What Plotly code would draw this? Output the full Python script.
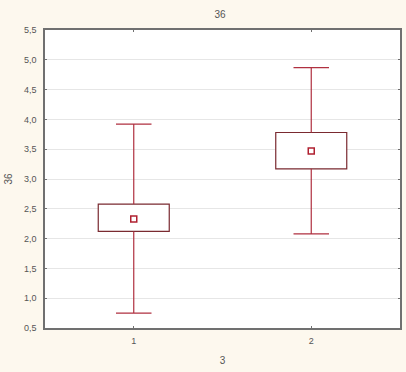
import plotly.graph_objects as go

groups = [1, 2]
upper_whisker = [3.92, 4.87]
q3_vals = [2.58, 3.78]
mean_vals = [2.33, 3.47]
q1_vals = [2.12, 3.17]
lower_whisker = [0.75, 2.08]
y_ticks = [0.5, 1.0, 1.5, 2.0, 2.5, 3.0, 3.5, 4.0, 4.5, 5.0, 5.5]

whisk_col = "#b03040"
box_col = "#7a2a30"
frame_col = "#707070"

fig = go.Figure()
# box body (q1..q3)
fig.add_trace(go.Bar(
    x=groups, base=q1_vals, y=[h - l for h, l in zip(q3_vals, q1_vals)],
    width=0.4, marker=dict(color="white", line=dict(color=box_col, width=1.2)),
    showlegend=False, hoverinfo="skip"))
# upper whisker: collapsed box at the whisker end acts as the cap
fig.add_trace(go.Box(
    x=groups, q1=upper_whisker, median=upper_whisker, q3=upper_whisker,
    lowerfence=q3_vals, upperfence=upper_whisker,
    width=0.2, whiskerwidth=0, fillcolor="white",
    line=dict(color=whisk_col, width=1.2), showlegend=False, hoverinfo="skip"))
# lower whisker
fig.add_trace(go.Box(
    x=groups, q1=lower_whisker, median=lower_whisker, q3=lower_whisker,
    lowerfence=lower_whisker, upperfence=q1_vals,
    width=0.2, whiskerwidth=0, fillcolor="white",
    line=dict(color=whisk_col, width=1.2), showlegend=False, hoverinfo="skip"))
# mean marker
fig.add_trace(go.Scatter(
    x=groups, y=mean_vals, mode="markers",
    marker=dict(symbol="square-open", size=6, color="#b02030", line=dict(width=1.5)),
    showlegend=False))

fig.update_layout(
    width=406, height=372,
    margin=dict(l=45, r=6, t=30, b=44, autoexpand=False),
    paper_bgcolor="#fdf8ee", plot_bgcolor="white",
    separators=", ",
    boxmode="overlay", barmode="overlay",
    font=dict(family="Arial, Liberation Sans", size=9, color="#555555"),
    title=dict(text="36", x=0.542, xanchor="center", y=0.962, yanchor="middle",
               font=dict(size=10, color="#555555")),
)
fig.update_xaxes(
    range=[0.5, 2.5], tickvals=groups, ticktext=[str(g) for g in groups],
    showgrid=False, zeroline=False, showline=True, linecolor=frame_col, linewidth=1.5,
    mirror="ticks", ticks="inside", ticklen=2, tickcolor=frame_col, automargin=False,
    ticklabelstandoff=3,
    title=dict(text="3", standoff=12, font=dict(size=10)))
fig.update_yaxes(
    range=[0.5, 5.5], tickvals=y_ticks, tickformat=".1f",
    showgrid=True, gridcolor="#e6e6e6", zeroline=False,
    showline=True, linecolor=frame_col, linewidth=1.5,
    mirror="ticks", ticks="inside", ticklen=2, tickcolor=frame_col, automargin=False,
    ticklabelstandoff=5,
    title=dict(text="36", standoff=9, font=dict(size=10)))

fig.write_html("out.html", config={"displayModeBar": False},
               post_script="document.body.style.margin='0';document.body.style.background='#fdf8ee';")
